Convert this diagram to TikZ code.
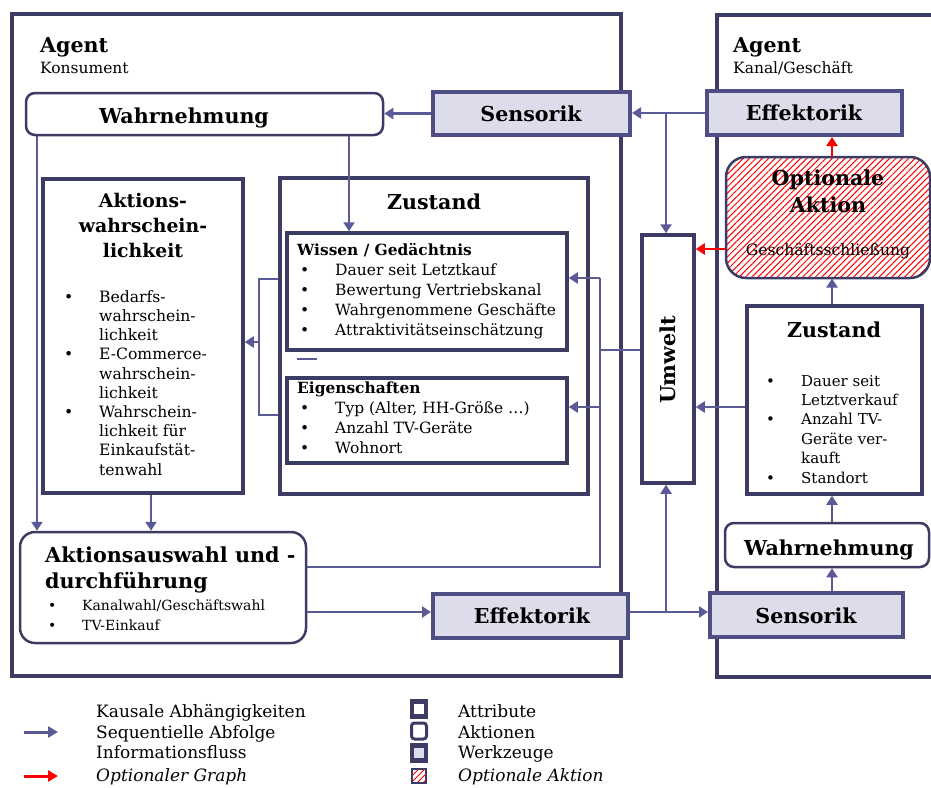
\documentclass[tikz,border=0pt]{standalone}
\usepackage{fontspec}
\setmainfont{DejaVu Serif}
\usetikzlibrary{arrows.meta,patterns.meta}
\definecolor{frm}{HTML}{3C3B63}
\definecolor{cn}{HTML}{5A5B96}
\definecolor{toolfill}{HTML}{DCDCEA}
\definecolor{toolbd}{HTML}{4E4E85}
\newcommand\bl[1]{\makebox[35pt][l]{\textbullet}#1}
\newcommand\cl[1]{\hspace*{35pt}#1}
\begin{document}
\begin{tikzpicture}[x=1pt,y=-1pt,
  frame/.style={draw=frm,line width=4pt},
  attr/.style={draw=frm,line width=3.5pt,fill=white,inner sep=0pt},
  tool/.style={draw=toolbd,line width=4pt,fill=toolfill,inner sep=0pt},
  act/.style={draw=frm,line width=2.5pt,fill=white,rounded corners=9pt,inner sep=0pt},
  opta/.style={draw=frm,line width=2.5pt,rounded corners=20pt,inner sep=0pt,
     pattern={Lines[angle=45,distance=4.5pt,line width=1pt]},pattern color=red},
  conn/.style={draw=cn,line width=2.2pt},
  arr/.style={conn,-{Triangle[length=9pt,width=11pt]}},
  rarr/.style={draw=red,line width=2.5pt,-{Triangle[length=9pt,width=11pt]}},
  big/.style={font=\fontsize{20.6}{24}\selectfont\bfseries,inner sep=0pt},
  mid/.style={font=\fontsize{18.8}{25}\selectfont\bfseries,inner sep=0pt},
  sub/.style={font=\fontsize{15.4}{20}\selectfont\bfseries,inner sep=0pt},
  body/.style={font=\fontsize{15.5}{20}\selectfont,inner sep=0pt},
  leg/.style={font=\fontsize{17}{20}\selectfont,inner sep=0pt,anchor=base west},
]
\useasboundingbox (0,0) rectangle (931,787);
% agent frames
\draw[frame] (12,14) rectangle (621,676);
\draw[frame] (950,15) -- (717,15) -- (717,677) -- (950,677);
\node[big,anchor=base west] (ag1) at (40,52) {Agent};
\node[body,anchor=base west] (ag1s) at (40,73) {Konsument};
\node[big,anchor=base west] (ag2) at (733,52) {Agent};
\node[body,anchor=base west] (ag2s) at (733,73) {Kanal/Geschäft};

% left agent boxes
\node[act,minimum width=357pt,minimum height=42pt] (wahrL) at (204.5,114) {};
\node[big,anchor=base] (wahrLt) at (184,123) {Wahrnehmung};
\node[tool,minimum width=197pt,minimum height=43pt] (sensT) at (531.5,113.5) {};
\node[big,anchor=base] (sensTt) at (531,121) {Sensorik};
\node[attr,minimum width=200pt,minimum height=314pt] (awk) at (143,336) {};
\node[mid,align=center,anchor=north] (awkt) at (143,189.5) {\strut Aktions-\\\strut wahrschein-\\\strut lichkeit};
\node[body,align=left,anchor=north west,font=\fontsize{15.6}{19.2}\selectfont] (awkl) at (64,288.6)
  {\strut\bl{Bedarfs-}\\\strut\cl{wahrschein-}\\\strut\cl{lichkeit}\\\strut\bl{E-Commerce-}\\\strut\cl{wahrschein-}\\\strut\cl{lichkeit}\\\strut\bl{Wahrschein-}\\\strut\cl{lichkeit für}\\\strut\cl{Einkaufstät-}\\\strut\cl{tenwahl}};
\node[attr,minimum width=308pt,minimum height=316pt] (zusL) at (434,336) {};
\node[big,anchor=base] (zusLt) at (434,209) {Zustand};
\node[attr,minimum width=280pt,minimum height=117pt] (wiss) at (427,291.5) {};
\node[sub,anchor=base west] (wisst) at (297,255) {Wissen / Gedächtnis};
\node[body,align=left,anchor=north west] (wissl) at (300,261)
  {\strut\bl{Dauer seit Letztkauf}\\\strut\bl{Bewertung Vertriebskanal}\\\strut\bl{Wahrgenommene Geschäfte}\\\strut\bl{Attraktivitätseinschätzung}};
\node[attr,minimum width=280pt,minimum height=85pt] (eig) at (427,420.5) {};
\node[sub,anchor=base west] (eigt) at (297,393) {Eigenschaften};
\node[body,align=left,anchor=north west] (eigl) at (300,399)
  {\strut\bl{Typ (Alter, HH-Größe …)}\\\strut\bl{Anzahl TV-Geräte}\\\strut\bl{Wohnort}};
\draw[draw=cn,line width=2pt] (297,359) -- (317,359);
\node[act,rounded corners=15pt,minimum width=286pt,minimum height=111pt] (ausw) at (163,587.5) {};
\node[big,align=left,anchor=north west,font=\fontsize{20.7}{26}\selectfont\bfseries] (auswt) at (45,543.8) {\strut Aktionsauswahl und -\\\strut durchführung};
\node[body,align=left,anchor=north west,font=\fontsize{14}{20}\selectfont] (auswl) at (48,596)
  {\strut\makebox[34pt][l]{\textbullet}Kanalwahl/Geschäftswahl\\\strut\makebox[34pt][l]{\textbullet}TV-Einkauf};
\node[tool,minimum width=195pt,minimum height=44pt] (effL) at (530.5,616) {};
\node[big,anchor=base] (effLt) at (532,623) {Effektorik};

% environment
\node[attr,minimum width=52pt,minimum height=248pt] (umw) at (668,359) {};
\node[big,rotate=90] (umwt) at (668,360) {Umwelt};

% right agent boxes
\node[tool,minimum width=195pt,minimum height=44pt] (effT) at (804.5,113) {};
\node[big,anchor=base] (effTt) at (804,120) {Effektorik};
\node[opta,minimum width=204pt,minimum height=121pt] (opt) at (828,217.5) {};
\node[big,align=center,anchor=north,font=\fontsize{20.6}{27}\selectfont\bfseries] (optt) at (828,166.1) {\strut Optionale\\\strut Aktion};
\node[body,anchor=base,font=\fontsize{15.6}{20}\selectfont] (optl) at (828,255) {Geschäftsschließung};
\node[attr,minimum width=175pt,minimum height=188pt] (zusR) at (834.5,400) {};
\node[big,anchor=base] (zusRt) at (834,337) {Zustand};
\node[body,align=left,anchor=north west,font=\fontsize{15}{19.4}\selectfont] (zusRl) at (766,372.4)
  {\strut\bl{Dauer seit}\\\strut\cl{Letztverkauf}\\\strut\bl{Anzahl TV-}\\\strut\cl{Geräte ver-}\\\strut\cl{kauft}\\\strut\bl{Standort}};
\node[act,minimum width=204pt,minimum height=44pt] (wahrR) at (827,545) {};
\node[big,anchor=base] (wahrRt) at (829,555) {Wahrnehmung};
\node[tool,minimum width=193pt,minimum height=44pt] (sensR) at (806.5,615) {};
\node[big,anchor=base] (sensRt) at (806,623) {Sensorik};

% connectors
\coordinate (jT) at (666,113);
\coordinate (jB) at (666,612);
\coordinate (lx1) at (259,279);
\coordinate (lx2) at (259,415);
\coordinate (lxm) at (259,342);
\coordinate (rx1) at (600,567);
\coordinate (rx2) at (600,278);
\coordinate (rx3) at (600,407);
\coordinate (rx4) at (600,350);
\draw[arr] (sensT.west) -- (wahrL.east |- sensT.west);
\draw[arr] (effT.west) -- (sensT.east |- effT.west);
\draw[arr] (jT) -- (jT |- umw.north);
\draw[arr] (wahrL.south -| 349,0) -- (wiss.north -| 349,0);
\draw[arr] (wahrL.south -| 37,0) -- (ausw.north -| 37,0);
\draw[arr] (awk.south -| 151,0) -- (ausw.north -| 151,0);
\draw[conn] (zusL.west |- lx1) -- (lx1) -- (lx2) -- (zusL.west |- lx2);
\draw[arr] (lxm) -- (awk.east |- lxm);
\draw[conn] (ausw.east |- rx1) -- (rx1) -- (rx2);
\draw[arr] (rx2) -- (wiss.east |- rx2);
\draw[arr] (rx3) -- (eig.east |- rx3);
\draw[conn] (umw.west |- rx4) -- (rx4);
\draw[arr] (ausw.east |- jB) -- (effL.west |- jB);
\draw[arr] (effL.east |- jB) -- (sensR.west |- jB);
\draw[arr] (jB) -- (jB |- umw.south);
\draw[arr] (zusR.west |- rx3) -- (umw.east |- rx3);
\draw[arr] (sensR.north -| 832,0) -- (wahrR.south -| 832,0);
\draw[arr] (wahrR.north -| 832,0) -- (zusR.south -| 832,0);
\draw[arr] (zusR.north -| 832,0) -- (opt.south -| 832,0);
\draw[rarr] (opt.north -| 832,0) -- (effT.south -| 832,0);
\draw[rarr] ([yshift=-31.5pt]opt.west) -- ([yshift=-31.5pt]opt.west -| umw.east);

% legend
\coordinate (la1) at (24,732);
\coordinate (la2) at (58,732);
\coordinate (lb1) at (24,776);
\coordinate (lb2) at (58,776);
\draw[draw=cn,line width=3pt,-{Triangle[length=10pt,width=11pt]}] (la1) -- (la2);
\draw[draw=red,line width=3pt,-{Triangle[length=10pt,width=11pt]}] (lb1) -- (lb2);
\node[leg] (l1) at (96,717) {Kausale Abhängigkeiten};
\node[leg] (l2) at (96,738) {Sequentielle Abfolge};
\node[leg] (l3) at (96,758) {Informationsfluss};
\node[leg,font=\fontsize{17}{20}\selectfont\itshape] (l4) at (96,781) {Optionaler Graph};
\node[attr,line width=4.5pt,minimum width=14pt,minimum height=15pt] (s1) at (419,709) {};
\node[act,rounded corners=3pt,line width=3pt,minimum width=15pt,minimum height=16pt] (s2) at (419,731) {};
\node[tool,draw=frm,line width=4.5pt,minimum width=14pt,minimum height=15pt] (s3) at (419,753) {};
\node[draw=frm,line width=1.5pt,minimum width=14pt,minimum height=14pt,inner sep=0pt,
  pattern={Lines[angle=45,distance=4pt,line width=1.2pt]},pattern color=red] (s4) at (419,776) {};
\node[leg] (m1) at (458,717) {Attribute};
\node[leg] (m2) at (458,738) {Aktionen};
\node[leg] (m3) at (458,758) {Werkzeuge};
\node[leg,font=\fontsize{17}{20}\selectfont\itshape] (m4) at (458,781) {Optionale Aktion};
\end{tikzpicture}
\end{document}
